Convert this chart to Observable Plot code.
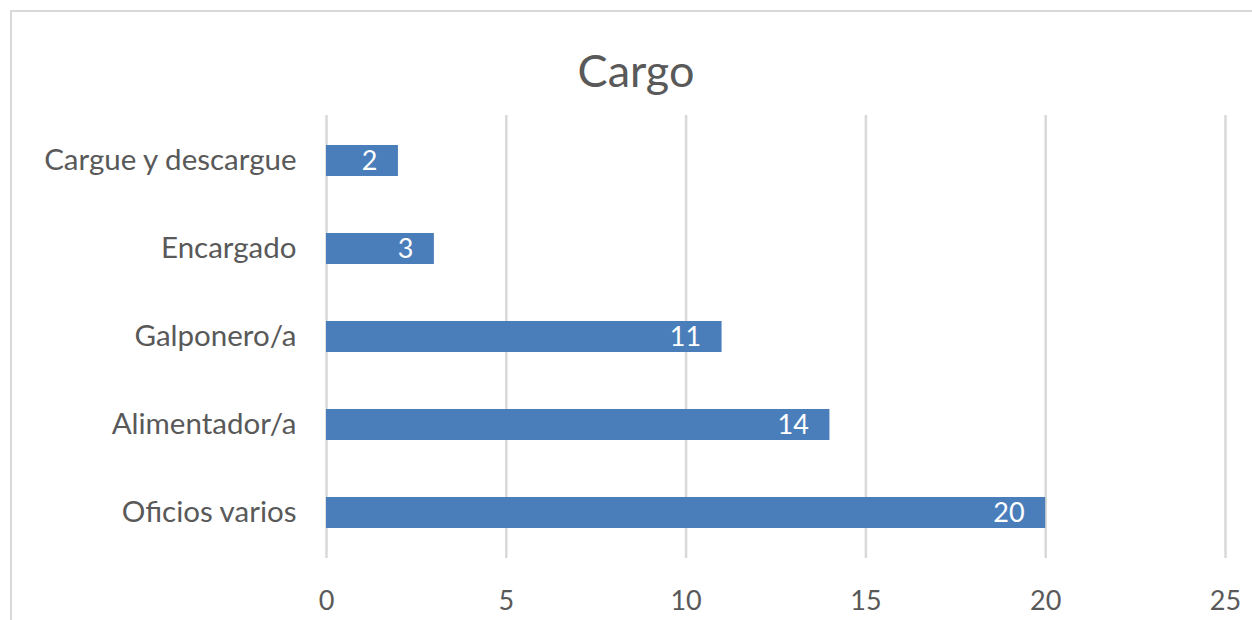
<!DOCTYPE html>
<html>
<head>
<meta charset="utf-8">
<script src="https://cdn.jsdelivr.net/npm/d3@7"></script>
<script src="https://cdn.jsdelivr.net/npm/@observablehq/plot@0.6"></script>
<style>
  html, body { margin: 0; padding: 0; background: #fff; overflow: hidden; width: 1252px; height: 620px; }
  #frame { position: absolute; left: 10px; top: 10px; width: 1260px; height: 700px; border: 2px solid #d9d9d9; box-sizing: border-box; }
  #title { position: absolute; left: 0; width: 1272px; top: 48px; text-align: center; font-family: Lato, "Open Sans", sans-serif; font-size: 45px; color: #595959; line-height: 1; margin: 0; font-weight: normal; }
  #chart { position: absolute; left: 0; top: 100px; }
  #chart g[aria-label="y-axis tick label"] text { font-size: 29.5px; }
</style>
</head>
<body>
<div id="frame"></div>
<h1 id="title">Cargo</h1>
<div id="chart"></div>
<script>
const categories = ["Cargue y descargue", "Encargado", "Galponero/a", "Alimentador/a", "Oficios varios"];
const values = [2, 3, 11, 14, 20];
const xTicks = [0, 5, 10, 15, 20, 25];

const data = categories.map((c, i) => ({cargo: c, n: values[i]}));

const chart = Plot.plot({
  width: 1252,
  height: 520,
  marginLeft: 326,
  marginRight: 27,
  marginTop: 15,
  marginBottom: 62,
  style: {fontFamily: "Lato, 'Open Sans', sans-serif", fontSize: "27px", color: "#595959", background: "transparent"},
  x: {domain: [0, 25], ticks: xTicks, tickSize: 0, tickPadding: 32, label: null},
  y: {domain: categories, paddingInner: 0.65, paddingOuter: 0.325, tickSize: 0, tickPadding: 30, label: null},
  marks: [
    Plot.ruleX(xTicks, {stroke: "#d9d9d9", strokeWidth: 2.5, strokeOpacity: 1}),
    Plot.barX(data, {x: "n", y: "cargo", fill: "#4a7ebb"}),
    Plot.text(data, {x: "n", y: "cargo", text: d => String(d.n), fill: "white", textAnchor: "end", dx: -21, fontSize: 27})
  ]
});
document.getElementById("chart").appendChild(chart);
</script>
</body>
</html>
